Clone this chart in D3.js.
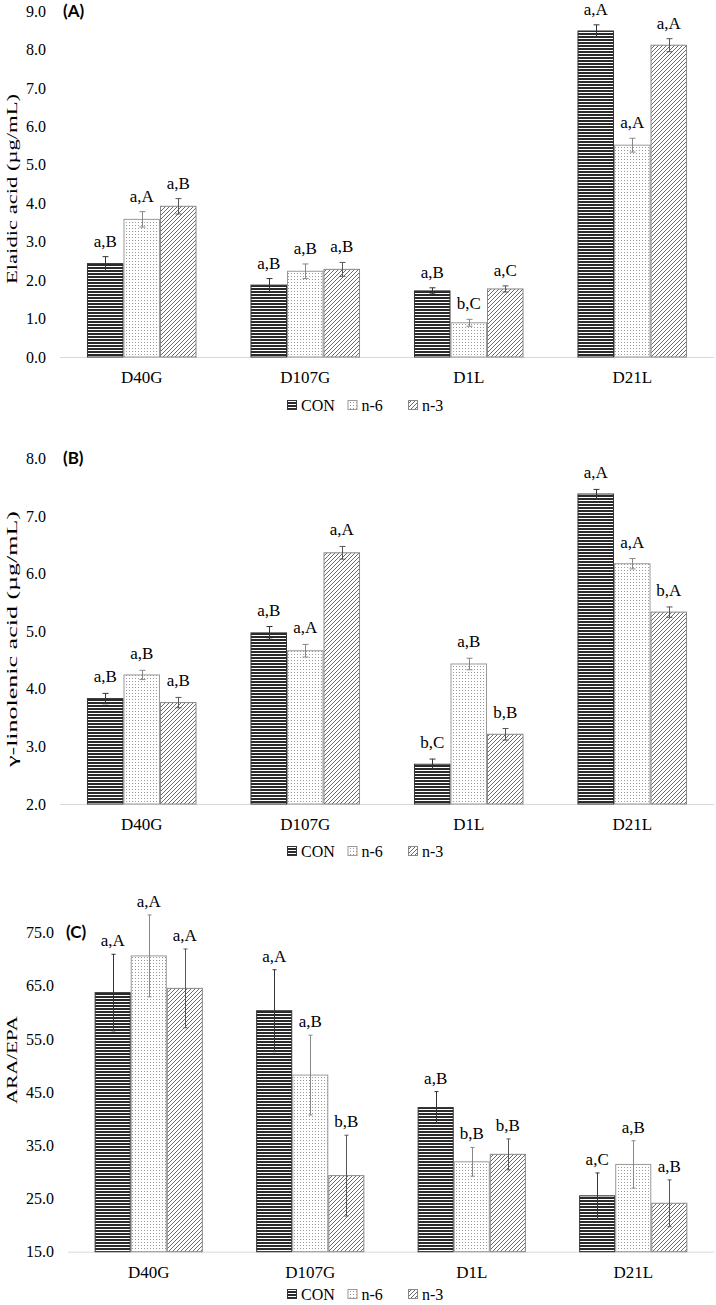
<!DOCTYPE html>
<html><head><meta charset="utf-8">
<script src="https://cdn.jsdelivr.net/npm/d3@7"></script>
<style>
html,body{margin:0;padding:0;background:#fff;}
</style></head>
<body>
<svg id="chart" width="716" height="1305"></svg>
<script>
const categories = ["D40G", "D107G", "D1L", "D21L"];
const seriesNames = ["CON", "n-6", "n-3"];

// Panel A: Elaidic acid (µg/mL)
const elaidicMeans = [[2.43, 1.87, 1.72, 8.48], [3.58, 2.23, 0.89, 5.51], [3.92, 2.28, 1.77, 8.11]];
const elaidicErrors = [[0.18, 0.17, 0.08, 0.16], [0.20, 0.19, 0.09, 0.18], [0.20, 0.18, 0.08, 0.17]];
const elaidicLabels = [["a,B", "a,B", "a,B", "a,A"], ["a,A", "a,B", "b,C", "a,A"], ["a,B", "a,B", "a,C", "a,A"]];
const elaidicTicks = [0, 1, 2, 3, 4, 5, 6, 7, 8, 9];

// Panel B: γ-linolenic acid (µg/mL)
const gammaMeans = [[3.83, 4.97, 2.69, 7.38], [4.24, 4.66, 4.43, 6.17], [3.76, 6.36, 3.21, 5.33]];
const gammaErrors = [[0.09, 0.11, 0.09, 0.08], [0.08, 0.11, 0.10, 0.09], [0.09, 0.11, 0.10, 0.09]];
const gammaLabels = [["a,B", "a,B", "b,C", "a,A"], ["a,B", "a,A", "a,B", "a,A"], ["a,B", "a,A", "b,B", "b,A"]];
const gammaTicks = [2, 3, 4, 5, 6, 7, 8];

// Panel C: ARA/EPA
const ratioMeans = [[63.7, 60.3, 42.1, 25.5], [70.6, 48.2, 31.9, 31.4], [64.5, 29.3, 33.3, 24.1]];
const ratioErrors = [[7.2, 7.7, 3.0, 4.3], [7.7, 7.5, 2.7, 4.45], [7.4, 7.6, 2.9, 4.4]];
const ratioLabels = [["a,A", "a,A", "a,B", "a,C"], ["a,A", "a,B", "b,B", "a,B"], ["a,A", "b,B", "b,B", "a,B"]];
const ratioTicks = [15, 25, 35, 45, 55, 65, 75];

const SERIF = "'Liberation Serif', 'Times New Roman', serif";
const SANS = "Lato, 'Open Sans', sans-serif";
const svg = d3.select("#chart");
const defs = svg.append("defs");

// patterns
const pCon = defs.append("pattern").attr("id", "pCON").attr("patternUnits", "userSpaceOnUse").attr("width", 3).attr("height", 3);
pCon.append("rect").attr("width", 3).attr("height", 3).attr("fill", "#fff");
pCon.append("rect").attr("width", 3).attr("height", 2).attr("fill", "#2a2a2a");

const pN6 = defs.append("pattern").attr("id", "pN6").attr("patternUnits", "userSpaceOnUse").attr("width", 3).attr("height", 3);
pN6.append("rect").attr("width", 3).attr("height", 3).attr("fill", "#fff");
pN6.append("rect").attr("width", 1).attr("height", 1).attr("fill", "#9a9a9a");

const pN3 = defs.append("pattern").attr("id", "pN3").attr("patternUnits", "userSpaceOnUse").attr("width", 4).attr("height", 4);
pN3.append("rect").attr("width", 4).attr("height", 4).attr("fill", "#fff");
pN3.append("path").attr("d", "M0,4 L4,0 M-1,1 L1,-1 M3,5 L5,3").attr("stroke", "#6a6a6a").attr("stroke-width", 1);

const fills = ["url(#pCON)", "url(#pN6)", "url(#pN3)"];
const strokes = ["#333", "#9a9a9a", "#888"];
const errColors = ["#333", "#888", "#555"];

function drawPanel(cfg) {
  const g = svg.append("g").attr("font-family", SERIF);
  const y = d3.scaleLinear().domain(cfg.domain).range([cfg.yBottom, cfg.yTop]);
  const x0 = d3.scaleBand().domain(categories).range([cfg.xLeft, 714]).paddingInner(0.33).paddingOuter(0.165);
  const x1 = d3.scaleBand().domain(seriesNames).range([0, x0.bandwidth()]);

  // y ticks (labels only)
  const yAxis = d3.axisLeft(y).tickValues(cfg.ticks).tickFormat(d3.format(".1f")).tickSize(0).tickPadding(14);
  const ya = g.append("g").attr("transform", `translate(${cfg.xLeft},0)`).call(yAxis)
    .attr("font-family", SERIF).attr("font-size", 16);
  ya.select(".domain").remove();
  ya.selectAll("text").attr("fill", "#000");

  // x axis line + category labels
  const xAxis = d3.axisBottom(x0).tickSize(0).tickPadding(14);
  const xa = g.append("g").attr("transform", `translate(0,${cfg.yBottom})`).call(xAxis)
    .attr("font-family", SERIF).attr("font-size", 17);
  xa.select(".domain").attr("stroke", "#d9d9d9").attr("d", `M${cfg.xLeft},0.5H714`);
  xa.selectAll("text").attr("fill", "#000");

  seriesNames.forEach((s, si) => {
    const sg = g.append("g");
    categories.forEach((c, ci) => {
      const v = cfg.means[si][ci];
      const e = cfg.errors[si][ci];
      const bx = x0(c) + x1(s);
      const bw = x1.bandwidth();
      sg.append("rect")
        .attr("x", bx + 0.5).attr("y", y(v))
        .attr("width", bw - 1).attr("height", y(cfg.domain[0]) - y(v))
        .attr("fill", fills[si]).attr("stroke", strokes[si]).attr("stroke-width", 1);
      const cx = Math.round(bx + bw / 2) + 0.5;
      const cap = cfg.cap;
      sg.append("path")
        .attr("d", `M${cx},${y(v + e)}V${y(v - e)}M${cx - cap},${y(v + e)}H${cx + cap}M${cx - cap},${y(v - e)}H${cx + cap}`)
        .attr("stroke", errColors[si]).attr("stroke-width", 1).attr("fill", "none");
      sg.append("text")
        .attr("x", bx + bw / 2).attr("y", y(v + e) - cfg.labelGap)
        .attr("text-anchor", "middle").attr("font-family", SERIF).attr("font-size", 17).attr("fill", "#000")
        .text(cfg.labels[si][ci]);
    });
  });

  // y-axis title (stretched along its length as in the original)
  g.append("text")
    .attr("transform", `translate(17,${cfg.titleY}) rotate(-90)`)
    .attr("text-anchor", "middle").attr("font-family", SERIF).attr("font-size", 15).attr("fill", "#000")
    .attr("textLength", cfg.titleLen).attr("lengthAdjust", "spacingAndGlyphs")
    .text(cfg.title);

  // panel letter
  g.append("text")
    .attr("x", cfg.letterX).attr("y", y(cfg.domain[1]))
    .attr("dy", "0.35em")
    .attr("font-family", SANS).attr("font-weight", "bold").attr("font-size", 17).attr("fill", "#000")
    .text(cfg.letter);

  // legend
  const lg = g.append("g").attr("transform", `translate(287,${cfg.legendY})`);
  seriesNames.forEach((s, si) => {
    const lx = si * 60.5;
    lg.append("rect").attr("x", lx + 0.5).attr("y", -4.5).attr("width", 9).attr("height", 9)
      .attr("fill", fills[si]).attr("stroke", strokes[si]);
    lg.append("text").attr("x", lx + 14).attr("y", 0).attr("dy", "0.35em")
      .attr("font-family", SERIF).attr("font-size", 16).attr("fill", "#000").text(s);
  });
}

drawPanel({
  means: elaidicMeans, errors: elaidicErrors, labels: elaidicLabels, ticks: elaidicTicks,
  domain: [0, 9], yBottom: 357, yTop: 11, xLeft: 60, cap: 3, labelGap: 10,
  title: "Elaidic acid (µg/mL)", titleY: 189, titleLen: 190, letter: "(A)", letterX: 63, legendY: 405
});
drawPanel({
  means: gammaMeans, errors: gammaErrors, labels: gammaLabels, ticks: gammaTicks,
  domain: [2, 8], yBottom: 804, yTop: 458.3, xLeft: 60, cap: 3, labelGap: 11,
  title: "γ-linolenic acid (µg/mL)", titleY: 639, titleLen: 256, letter: "(B)", letterX: 63, legendY: 851
});
drawPanel({
  means: ratioMeans, errors: ratioErrors, labels: ratioLabels, ticks: ratioTicks,
  domain: [15, 75], yBottom: 1251.7, yTop: 932.5, xLeft: 68, cap: 2, labelGap: 8,
  title: "ARA/EPA", titleY: 1060, titleLen: 88, letter: "(C)", letterX: 66, legendY: 1294
});
</script>
</body></html>
